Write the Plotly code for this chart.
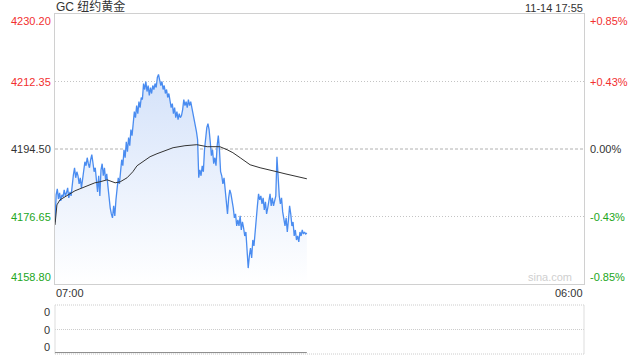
import plotly.graph_objects as go

# ---- data ----
title_text = "GC 纽约黄金"
stamp_text = "11-14 17:55"
prev_close = 4194.50
left_ticks = [4230.20, 4212.35, 4194.50, 4176.65, 4158.80]
left_tick_text = ["4230.20", "4212.35", "4194.50", "4176.65", "4158.80"]
right_tick_text = ["+0.85%", "+0.43%", "0.00%", "-0.43%", "-0.85%"]
x_tick_text = ["07:00", "06:00"]
session_minutes = [0, 1380]

# minutes since 07:00, one point every 3 minutes
minutes = list(range(0, 658, 3))
price = [
    4175.21, 4182.38, 4183.97, 4181.32, 4182.91, 4180.78, 4182.38, 4181.85, 4183.70, 4182.11,
    4182.91, 4184.23, 4181.58, 4183.17, 4182.11, 4185.29, 4187.68, 4189.54, 4186.89, 4188.48,
    4187.42, 4185.29, 4186.89, 4184.23, 4186.35, 4189.01, 4191.13, 4190.07, 4192.19, 4190.60,
    4189.54, 4191.66, 4192.99, 4190.86, 4188.48, 4189.54, 4185.82, 4183.17, 4187.42, 4182.11,
    4189.01, 4190.60, 4187.42, 4189.54, 4186.35, 4187.95, 4184.76, 4181.58, 4178.93, 4177.34,
    4176.28, 4179.46, 4176.81, 4181.05, 4184.76, 4186.89, 4185.29, 4189.01, 4191.66, 4190.07,
    4194.31, 4192.19, 4196.43, 4193.78, 4197.50, 4195.37, 4199.62, 4198.03, 4201.74, 4204.39,
    4202.80, 4205.98, 4203.86, 4207.04, 4205.45, 4208.11, 4207.57, 4211.82, 4210.23, 4212.35,
    4209.70, 4211.29, 4208.64, 4210.76, 4209.17, 4211.29, 4210.23, 4211.82, 4210.76, 4213.41,
    4214.21, 4212.88, 4211.29, 4212.35, 4210.23, 4211.29, 4209.17, 4210.23, 4208.11, 4209.17,
    4207.57, 4205.45, 4206.51, 4203.86, 4205.45, 4202.80, 4204.39, 4202.27, 4203.86, 4202.80,
    4203.33, 4204.92, 4207.57, 4205.98, 4207.04, 4205.45, 4207.57, 4205.98, 4207.04, 4205.45,
    4204.39, 4202.80, 4201.21, 4199.09, 4196.96, 4186.89, 4189.01, 4187.42, 4190.07, 4188.48,
    4194.31, 4197.50, 4200.15, 4201.21, 4199.62, 4196.43, 4192.72, 4194.31, 4190.60, 4192.19,
    4190.07, 4195.37, 4198.03, 4194.31, 4188.48, 4187.42, 4185.29, 4186.89, 4183.70, 4182.11,
    4177.34, 4181.58, 4183.70, 4182.64, 4181.05, 4178.93, 4176.28, 4177.34, 4174.15, 4175.74,
    4174.15, 4176.81, 4173.09, 4175.21, 4173.62, 4171.50, 4172.56, 4167.79, 4163.01, 4166.20,
    4168.32, 4165.66, 4170.44, 4168.85, 4173.09, 4177.34, 4179.46, 4182.64, 4181.05, 4182.11,
    4179.99, 4181.58, 4178.40, 4180.52, 4177.34, 4178.93, 4181.05, 4182.64, 4179.46, 4181.58,
    4179.46, 4181.05, 4182.11, 4192.46, 4185.29, 4182.11, 4179.99, 4181.58, 4177.87, 4175.21,
    4174.15, 4176.28, 4172.56, 4175.74, 4179.46, 4177.34, 4174.15, 4175.21, 4171.50, 4173.09,
    4170.44, 4171.50, 4169.91, 4172.56, 4171.50, 4173.09, 4172.03, 4172.56, 4172.03, 4172.30,
]

avg_minutes = [0, 3, 5, 13, 26, 39, 52, 65, 78, 91, 104, 117, 136, 157, 170, 188, 203, 214,
               230, 248, 266, 287, 308, 339, 370, 397, 430, 449, 464, 483, 509, 535, 561,
               579, 600, 626, 657]
avg_price = [4174.42, 4177.87, 4179.72, 4181.05, 4181.85, 4182.64, 4183.44, 4183.97, 4184.50,
             4185.03, 4185.56, 4185.82, 4186.35, 4185.56, 4185.82, 4186.89, 4188.48, 4190.07,
             4191.13, 4192.46, 4193.25, 4194.05, 4194.84, 4195.37, 4195.64, 4195.11, 4195.11,
             4194.31, 4193.52, 4192.19, 4190.33, 4189.54, 4189.01, 4188.48, 4187.95, 4187.42,
             4186.62]

vol_minutes = [0, 657]
volume = [0, 0]
vol_tick_text = ["0", "0", "0"]

# ---- styles ----
FONT = "Liberation Sans, Arial, Noto Sans CJK SC, sans-serif"
RED = "#f23030"
GREEN = "#22a622"
DARK = "#333333"
LINE_BLUE = "#4a8cf0"
MAIN_BOTTOM = 0.2059
VOL_TOP = 0.1441

fig = go.Figure()

fig.add_trace(go.Scatter(
    x=minutes, y=price, mode="lines",
    line=dict(color=LINE_BLUE, width=1.3),
    fill="tozeroy",
    fillgradient=dict(type="vertical", start=left_ticks[-1], stop=max(price),
                      colorscale=[[0, "rgba(255,255,255,1)"], [1, "rgba(212,226,250,1)"]]),
    hoverinfo="skip", xaxis="x", yaxis="y",
))
fig.add_trace(go.Scatter(
    x=avg_minutes, y=avg_price, mode="lines",
    line=dict(color="#333333", width=1),
    hoverinfo="skip", xaxis="x", yaxis="y",
))
fig.add_trace(go.Scatter(
    x=vol_minutes, y=volume, mode="lines",
    line=dict(color="#888888", width=1),
    hoverinfo="skip", xaxis="x2", yaxis="y2",
))

shapes = []
# main grid lines
for v in (left_ticks[1], left_ticks[3]):
    shapes.append(dict(type="line", xref="paper", x0=0, x1=1, yref="y", y0=v, y1=v,
                       line=dict(color="#c4c4c4", width=1, dash="1px,2px"), layer="below"))
shapes.append(dict(type="line", xref="paper", x0=0, x1=1, yref="y", y0=prev_close, y1=prev_close,
                   line=dict(color="#b0b0b0", width=1, dash="3px,2px"), layer="below"))
# volume panel frame
for yy in (0, VOL_TOP / 2, VOL_TOP):
    shapes.append(dict(type="line", xref="paper", x0=0, x1=1, yref="paper", y0=yy, y1=yy,
                       line=dict(color="#cccccc", width=1, dash="1px,1px"), layer="below"))
for xx in (0, 1):
    shapes.append(dict(type="line", xref="paper", x0=xx, x1=xx, yref="paper", y0=0, y1=VOL_TOP,
                       line=dict(color="#dddddd", width=1), layer="below"))

annotations = []
left_colors = [RED, RED, DARK, GREEN, GREEN]
anchors = ["top", "middle", "middle", "middle", "bottom"]
for v, lt, rt, c, a in zip(left_ticks, left_tick_text, right_tick_text, left_colors, anchors):
    annotations.append(dict(xref="paper", x=0, yref="y", y=v, text=lt, showarrow=False,
                            xanchor="right", yanchor=a, xshift=-3, borderpad=0,
                            font=dict(family=FONT, size=11, color=c)))
    annotations.append(dict(xref="paper", x=1, yref="y", y=v, text=rt, showarrow=False,
                            xanchor="left", yanchor=a, xshift=5, borderpad=0,
                            font=dict(family=FONT, size=11, color=c)))
for yy, a, t in zip((VOL_TOP, VOL_TOP / 2, 0), ("top", "middle", "bottom"), vol_tick_text):
    annotations.append(dict(xref="paper", x=0, yref="paper", y=yy, text=t, showarrow=False,
                            xanchor="right", yanchor=a, xshift=-4, borderpad=0,
                            font=dict(family=FONT, size=11, color=DARK)))
annotations.append(dict(xref="x", x=session_minutes[0], yref="paper", y=MAIN_BOTTOM,
                        text=x_tick_text[0], showarrow=False, xanchor="left", yanchor="top",
                        yshift=-2, borderpad=0, font=dict(family=FONT, size=11, color=DARK)))
annotations.append(dict(xref="x", x=session_minutes[1], yref="paper", y=MAIN_BOTTOM,
                        text=x_tick_text[1], showarrow=False, xanchor="right", yanchor="top",
                        yshift=-2, borderpad=0, font=dict(family=FONT, size=11, color=DARK)))
annotations.append(dict(xref="paper", x=0, yref="paper", y=1, text=title_text, showarrow=False,
                        xanchor="left", yanchor="bottom", borderpad=0, yshift=-1,
                        font=dict(family=FONT, size=12, color=DARK)))
annotations.append(dict(xref="paper", x=1, yref="paper", y=1, text=stamp_text, showarrow=False,
                        xanchor="right", yanchor="bottom", borderpad=0, yshift=-1,
                        font=dict(family=FONT, size=11, color=DARK)))
annotations.append(dict(xref="paper", x=1, yref="paper", y=MAIN_BOTTOM, text="sina.com",
                        showarrow=False, xanchor="right", yanchor="bottom", xshift=-11, yshift=0,
                        borderpad=0, font=dict(family=FONT, size=11, color="#cfcfcf")))

fig.update_layout(
    width=640, height=360,
    margin=dict(l=55, r=56, t=14, b=6, pad=0),
    paper_bgcolor="white", plot_bgcolor="rgba(0,0,0,0)",
    showlegend=False,
    xaxis=dict(domain=[0, 1], range=session_minutes, anchor="y", showticklabels=False,
               showgrid=False, zeroline=False, showline=True, mirror=True,
               linecolor="#d0d0d0", linewidth=1, ticks=""),
    yaxis=dict(domain=[MAIN_BOTTOM, 1], range=[left_ticks[-1], left_ticks[0]], anchor="x",
               showticklabels=False, showgrid=False, zeroline=False, showline=True,
               mirror=True, linecolor="#d0d0d0", linewidth=1, ticks=""),
    xaxis2=dict(domain=[0, 1], range=session_minutes, anchor="y2", showticklabels=False,
                showgrid=False, zeroline=False, showline=False, ticks=""),
    yaxis2=dict(domain=[0, VOL_TOP], range=[-0.03, 1], anchor="x2", showticklabels=False,
                showgrid=False, zeroline=False, showline=False, ticks=""),
    shapes=shapes,
    annotations=annotations,
)

fig.write_html("out.html")
